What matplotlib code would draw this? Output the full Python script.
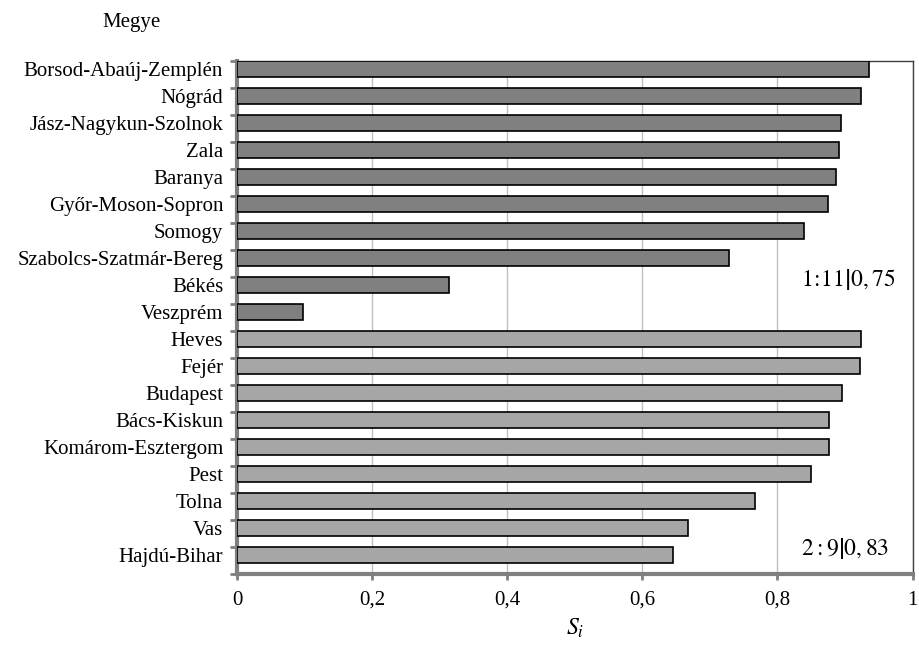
import matplotlib
matplotlib.use("Agg")
import matplotlib.pyplot as plt
import numpy as np

plt.rcParams['font.family'] = ['Liberation Serif', 'DejaVu Serif']
plt.rcParams['mathtext.fontset'] = 'stix'

# counties, ordered top to bottom
group1 = ['Borsod-Abaúj-Zemplén', 'Nógrád', 'Jász-Nagykun-Szolnok', 'Zala', 'Baranya',
          'Győr-Moson-Sopron', 'Somogy', 'Szabolcs-Szatmár-Bereg', 'Békés', 'Veszprém']
values1 = [0.936, 0.924, 0.894, 0.891, 0.887, 0.875, 0.839, 0.728, 0.314, 0.097]

group2 = ['Heves', 'Fejér', 'Budapest', 'Bács-Kiskun', 'Komárom-Esztergom',
          'Pest', 'Tolna', 'Vas', 'Hajdú-Bihar']
values2 = [0.924, 0.922, 0.896, 0.877, 0.877, 0.850, 0.766, 0.668, 0.646]

x_ticks = [0, 0.2, 0.4, 0.6, 0.8, 1]
x_tick_labels = ['0', '0,2', '0,4', '0,6', '0,8', '1']

labels = group1 + group2
n = len(labels)
ypos = np.arange(n)

fig = plt.figure(figsize=(9.19, 6.48), dpi=100)
ax = fig.add_axes([0.258, 0.114, 0.735, 0.792])

h = 0.6
ax.barh(ypos[:len(group1)], values1, height=h, color='#808080',
        edgecolor='black', linewidth=1.2, zorder=3)
ax.barh(ypos[len(group1):], values2, height=h, color='#a6a6a6',
        edgecolor='black', linewidth=1.2, zorder=3)

# slot for each county: bar sits at the top of its slot
ax.set_ylim(n - 0.3, -0.3)
ax.set_xlim(0, 1)

ax.set_yticks(ypos)
ax.set_yticklabels(labels, fontsize=15)
ax.tick_params(axis='y', which='major', length=0, pad=10)
ax.set_yticks(np.arange(n + 1) - 0.3, minor=True)
ax.tick_params(axis='y', which='minor', length=5, width=2, color='#808080')

ax.set_xticks(x_ticks)
ax.set_xticklabels(x_tick_labels, fontsize=15)
ax.tick_params(axis='x', length=4, width=2, color='#808080', pad=8)

ax.grid(axis='x', color='#c0c0c0', linewidth=1, zorder=0)

for side in ['left', 'bottom']:
    ax.spines[side].set_color('#808080')
    ax.spines[side].set_linewidth(3)
for side in ['top', 'right']:
    ax.spines[side].set_color('#404040')
    ax.spines[side].set_linewidth(1)

ax.set_xlabel(r'$S_i$', fontsize=17, labelpad=5)

ax.text(0.905, 7.8, r'$1\!:\!11\left|0,75\right.$', fontsize=17, ha='center', va='center')
ax.text(0.90, 17.75, r'$2:9\left|0,83\right.$', fontsize=17, ha='center', va='center')

fig.text(0.143, 0.966, 'Megye', fontsize=15, ha='center', va='center')

fig.savefig('out.png', dpi=100)
